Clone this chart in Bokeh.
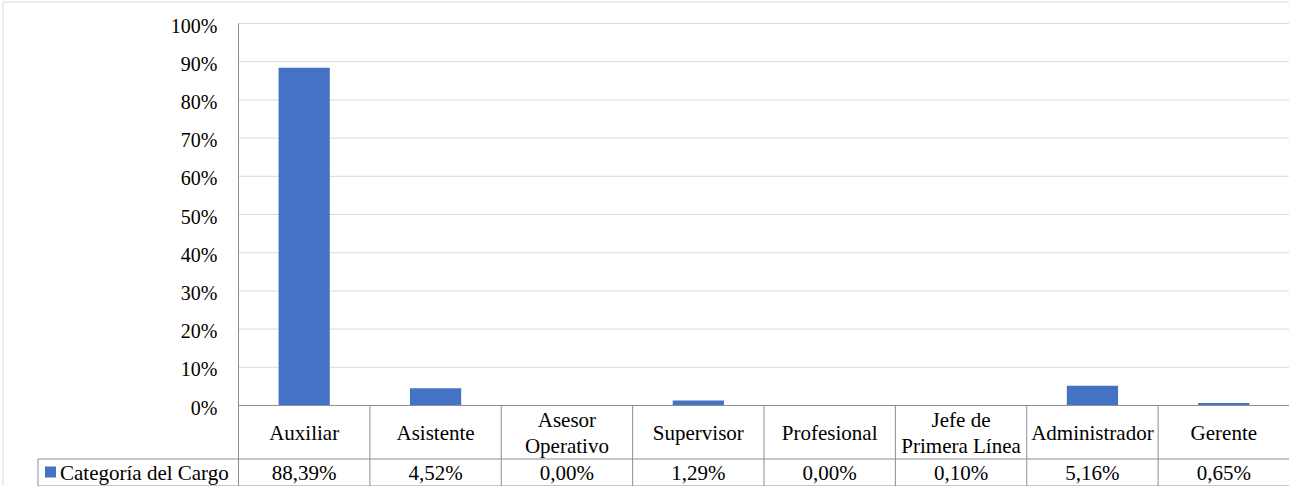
from bokeh.plotting import figure
from bokeh.models import Range1d, ColumnDataSource
from bokeh.embed import file_html
from bokeh.resources import INLINE
from bokeh.core.properties import value

# ---- data ----
categories = ["Auxiliar", "Asistente", "Asesor\nOperativo", "Supervisor",
              "Profesional", "Jefe de\nPrimera Línea", "Administrador", "Gerente"]
percentages = [88.39, 4.52, 0.00, 1.29, 0.00, 0.10, 5.16, 0.65]
series_name = "Categoría del Cargo"
tick_values = [0.0, 0.1, 0.2, 0.3, 0.4, 0.5, 0.6, 0.7, 0.8, 0.9, 1.0]
tick_labels = ["0%", "10%", "20%", "30%", "40%", "50%", "60%", "70%", "80%", "90%", "100%"]

# ---- layout (canvas pixel geometry) ----
W, H = 1289, 486
BORDER_X, BORDER_Y = 2.5, 1.5
PLOT_L, PLOT_R = 238.0, 1289.0
PLOT_T, PLOT_B = 23.0, 405.0
HEAD_B = 458.0
ROW_B = 485.0
TAB_L = 37.5
n = len(categories)
cw = (PLOT_R - PLOT_L) / n

def sx(px):
    return (px - PLOT_L) / cw - 0.5

def sy(py):
    return (PLOT_B - py) / (PLOT_B - PLOT_T)

FONT = value("Liberation Serif")
FS_TICK = "20px"
FS_TAB = "21px"
TXT = "#000000"
GRID = "#D9D9D9"
TABLE = "#8F8F8F"
BAR = "#4472C4"

p = figure(width=W, height=H, output_backend="svg", toolbar_location=None,
           x_range=Range1d(sx(0), sx(W)), y_range=Range1d(sy(H), sy(0)),
           x_axis_type=None, y_axis_type=None, min_border=0)
p.xgrid.visible = False
p.ygrid.visible = False
p.outline_line_color = None
p.background_fill_color = "white"
p.border_fill_color = "white"

# chart outer border (left and top, rest cropped)
p.segment(x0=[sx(BORDER_X), sx(BORDER_X)], y0=[sy(BORDER_Y), sy(BORDER_Y)],
          x1=[sx(BORDER_X), sx(W + 5)], y1=[sy(H + 5), sy(BORDER_Y)],
          line_color=GRID, line_width=1)

# gridlines
gy = tick_values[1:]
p.segment(x0=[-0.5] * len(gy), y0=gy, x1=[n - 0.5] * len(gy), y1=gy,
          line_color=GRID, line_width=1)

# bars
xs = list(range(n))
src = ColumnDataSource(dict(x=xs, top=[v / 100 for v in percentages]))
p.vbar(x="x", top="top", bottom=0, width=0.39, source=src,
       fill_color=BAR, line_color=None)

# y tick labels
p.text(x=[sx(PLOT_L - 21)] * len(tick_values), y=tick_values, text=tick_labels,
       text_font=FONT, text_font_size=FS_TICK, text_color=TXT,
       text_align="right", text_baseline="middle", y_offset=2)

y_head_b = sy(HEAD_B + 0.5)
y_row_b = sy(ROW_B + 0.5)

# axis line + vertical table lines
vx = [k - 0.5 for k in range(n + 1)]
p.segment(x0=vx, y0=[1.0] + [0.0] * n, x1=vx, y1=[y_row_b] * (n + 1),
          line_color=TABLE, line_width=1)
p.segment(x0=[-0.5, sx(TAB_L), sx(TAB_L), sx(TAB_L)],
          y0=[0.0, y_head_b, y_row_b, y_head_b],
          x1=[n - 0.5, n - 0.5, n - 0.5, sx(TAB_L)],
          y1=[0.0, y_head_b, y_row_b, y_row_b],
          line_color=TABLE, line_width=1)

# header labels
p.text(x=xs, y=[sy((PLOT_B + HEAD_B) / 2)] * n, text=categories,
       text_font=FONT, text_font_size=FS_TAB, text_color=TXT,
       text_align="center", text_baseline="middle", text_line_height=1.05,
       y_offset=1)

# values row
row_c = sy((HEAD_B + ROW_B) / 2)
vals = [f"{v:.2f}".replace(".", ",") + "%" for v in percentages]
p.text(x=xs, y=[row_c] * n, text=vals,
       text_font=FONT, text_font_size=FS_TAB, text_color=TXT,
       text_align="center", text_baseline="middle", y_offset=1)

# legend key + series name
p.quad(left=[sx(TAB_L + 7)], right=[sx(TAB_L + 18)],
       top=[sy(ROW_B - 19)], bottom=[sy(ROW_B - 8)],
       fill_color=BAR, line_color=None)
p.text(x=[sx(TAB_L + 22)], y=[row_c], text=[series_name],
       text_font=FONT, text_font_size=FS_TAB, text_color=TXT,
       text_align="left", text_baseline="middle", y_offset=1)

open("out.html", "w").write(file_html(p, INLINE))
